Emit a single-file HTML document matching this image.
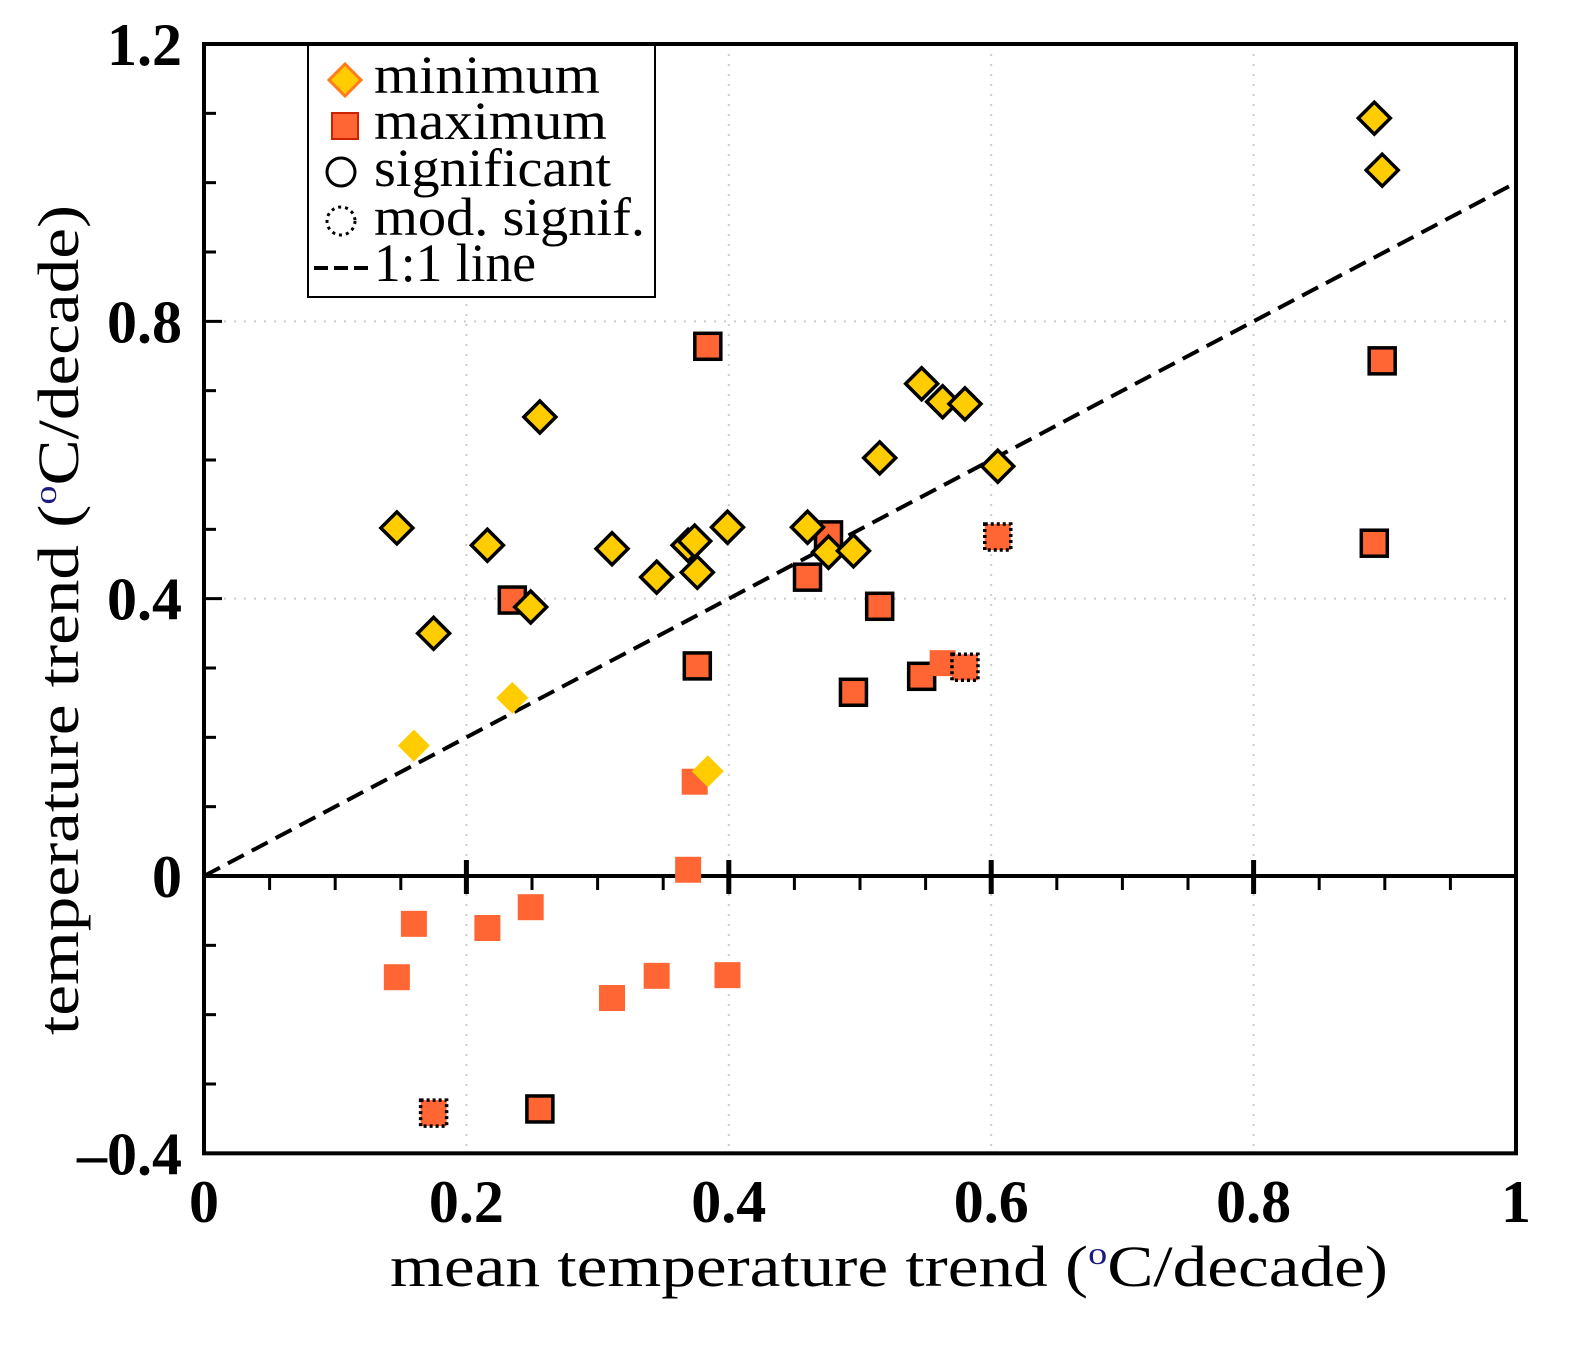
<!DOCTYPE html>
<html><head><meta charset="utf-8"><style>
body{margin:0;background:#fff}
svg text{font-family:"Liberation Serif",serif}
</style></head><body>
<svg id="c" width="1593" height="1342" xmlns="http://www.w3.org/2000/svg">
<g id="grid"></g>
<g id="axes"></g>
<g id="marks"></g>
<text x="390" y="1286" font-size="58" textLength="998" lengthAdjust="spacingAndGlyphs">mean temperature trend (<tspan font-size="32" dy="-22" fill="#1a1a80">o</tspan><tspan dy="22">C/decade)</tspan></text>
<text transform="translate(78,1035) rotate(-90)" font-size="58" textLength="830" lengthAdjust="spacingAndGlyphs">temperature trend (<tspan font-size="32" dy="-22" fill="#1a1a80">o</tspan><tspan dy="22">C/decade)</tspan></text>
<g>
<rect x="308" y="45" width="347" height="252" fill="#fff" stroke="#000" stroke-width="2"/>
<g><path d="M345 64 L361 80 L345 96 L329 80Z" fill="#ffcc00" stroke="#ff7a1a" stroke-width="3"/><text x="374" y="93" font-size="54" textLength="226" lengthAdjust="spacingAndGlyphs">minimum</text></g>
<g><rect x="332" y="113" width="26" height="26" fill="#ff6633" stroke="#cc2200" stroke-width="2"/><text x="374" y="139" font-size="54" textLength="233" lengthAdjust="spacingAndGlyphs">maximum</text></g>
<g><circle cx="341" cy="172" r="14" fill="none" stroke="#000" stroke-width="3"/><text x="374" y="186" font-size="54" textLength="237" lengthAdjust="spacingAndGlyphs">significant</text></g>
<g><circle cx="341" cy="221" r="14" fill="none" stroke="#000" stroke-width="3" stroke-dasharray="3,4"/><text x="374" y="235" font-size="54" textLength="271" lengthAdjust="spacingAndGlyphs">mod. signif.</text></g>
<g><line x1="314" y1="268" x2="368" y2="268" stroke="#000" stroke-width="4" stroke-dasharray="14,6"/><text x="374" y="281" font-size="54" textLength="162" lengthAdjust="spacingAndGlyphs">1:1 line</text></g>
</g>
</svg>
<script>
const meanTrend=[0.147,0.160,0.175,0.216,0.235,0.249,0.256,0.311,0.345,0.369,0.374,0.376,0.384,0.399,0.460,0.476,0.495,0.515,0.547,0.563,0.580,0.605,0.892,0.898];
const minTrend=[0.502,0.188,0.350,0.477,0.257,0.388,0.662,0.472,0.431,0.477,0.483,0.438,0.151,0.503,0.503,0.467,0.469,0.603,0.710,0.684,0.681,0.591,1.093,1.018];
const maxTrend=[-0.146,-0.069,-0.342,-0.075,0.398,-0.045,-0.336,-0.176,-0.144,0.009,0.136,0.303,0.764,-0.143,0.431,0.492,0.265,0.389,0.288,0.307,0.301,0.489,0.480,0.743];
const minSig=['s','n','s','s','n','s','s','s','s','s','s','s','n','s','s','s','s','s','s','s','s','s','s','s'];
const maxSig=['n','n','m','n','s','n','s','n','n','n','n','s','s','n','s','s','s','s','s','n','m','m','s','s'];
const xTicks=[0,0.2,0.4,0.6,0.8,1];
const xTickLabels=['0','0.2','0.4','0.6','0.8','1'];
const yTicks=[-0.4,0,0.4,0.8,1.2];
const yTickLabels=['\u20130.4','0','0.4','0.8','1.2'];
const X0=204,X1=1516,Y0=876,YT=44;
const sx=v=>X0+v*(X1-X0);
const sy=v=>Y0-v*(Y0-YT)/1.2;
const NS='http://www.w3.org/2000/svg';
function mk(t,a,p){const e=document.createElementNS(NS,t);for(const k in a)e.setAttribute(k,a[k]);p.appendChild(e);return e;}
const grid=document.getElementById('grid'),axes=document.getElementById('axes'),marks=document.getElementById('marks');
[0.2,0.4,0.6,0.8].forEach(v=>{const l=mk('line',{x1:sx(v),x2:sx(v),y1:sy(1.2),y2:sy(-0.4),stroke:'#ccc','stroke-width':2,'stroke-dasharray':'2,8'},grid);

});
[0.4,0.8].forEach(v=>{const l=mk('line',{x1:X0,x2:X1,y1:sy(v),y2:sy(v),stroke:'#ccc','stroke-width':2,'stroke-dasharray':'2,8'},grid);

});
const fr=mk('rect',{x:X0,y:sy(1.2),width:X1-X0,height:sy(-0.4)-sy(1.2),fill:'none',stroke:'#000','stroke-width':4},axes);


const zl=mk('line',{x1:X0,x2:X1,y1:sy(0),y2:sy(0),stroke:'#000','stroke-width':4},axes);


for(let i=1;i<20;i++){const v=i*0.05,maj=i%4===0;mk('line',{x1:sx(v),x2:sx(v),y1:maj?sy(0)-16:sy(0),y2:maj?sy(0)+18:sy(0)+14,stroke:'#000','stroke-width':maj?5:3},axes);}
for(let i=-3;i<12;i++){const v=i*0.1;if(Math.abs(v)<1e-9)continue;const maj=i%4===0;mk('line',{x1:X0,x2:X0+(maj?18:12),y1:sy(v),y2:sy(v),stroke:'#000','stroke-width':3},axes);}
xTicks.forEach((v,i)=>{const t=mk('text',{x:sx(v),y:1222,'font-size':60,'font-weight':'bold','text-anchor':'middle'},axes);t.textContent=xTickLabels[i];

});
yTicks.forEach((v,i)=>{const t=mk('text',{x:182,y:sy(v)+21,'font-size':60,'font-weight':'bold','text-anchor':'end'},axes);t.textContent=yTickLabels[i];

});
const ol=mk('line',{x1:sx(0),y1:sy(0),x2:sx(1),y2:sy(1),stroke:'#000','stroke-width':4,'stroke-dasharray':'18,9'},marks);


function strokeFor(s){return s==='s'?{stroke:'#000','stroke-width':3.5}:s==='m'?{stroke:'#000','stroke-width':3.5,'stroke-dasharray':'3,3'}:{stroke:'none'};}
meanTrend.forEach((m,i)=>{const cx=sx(m),cy=sy(maxTrend[i]);
const r=mk('rect',Object.assign({x:cx-13,y:cy-13,width:26,height:26,fill:'#ff6633'},strokeFor(maxSig[i])),marks);

});
meanTrend.forEach((m,i)=>{const cx=sx(m),cy=sy(minTrend[i]),h=16;
const d=mk('path',Object.assign({d:`M${cx} ${cy-h} L${cx+h} ${cy} L${cx} ${cy+h} L${cx-h} ${cy}Z`,fill:'#ffcc00'},strokeFor(minSig[i])),marks);

});
</script>
</body></html>
